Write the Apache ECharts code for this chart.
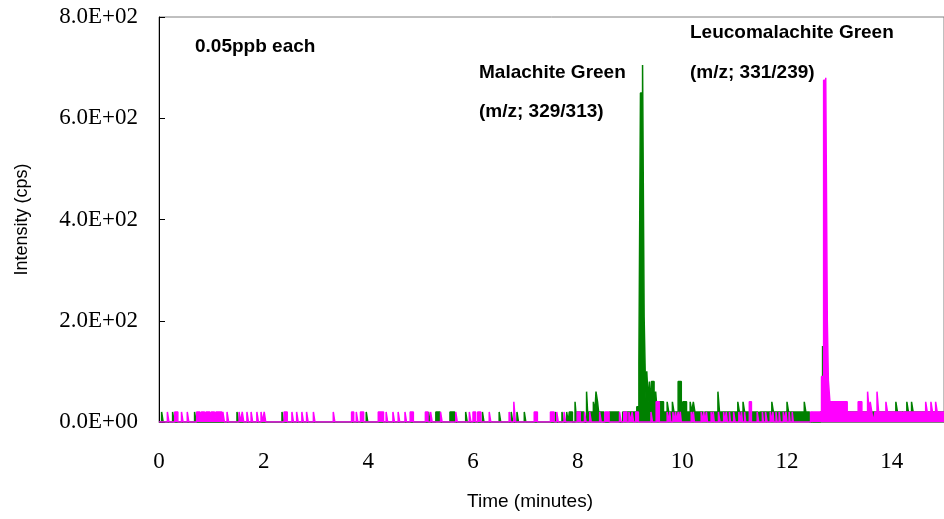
<!DOCTYPE html>
<html>
<head>
<meta charset="utf-8">
<script src="https://cdn.jsdelivr.net/npm/echarts@6/dist/echarts.min.js"></script>
<style>
html,body{margin:0;padding:0;background:#fff;}
#chart{width:944px;height:519px;}
</style>
</head>
<body>
<div id="chart"></div>
<script>
// Axis ticks
const xTicks = [0, 2, 4, 6, 8, 10, 12, 14];
const yTicks = [0, 200, 400, 600, 800];

// Malachite Green (m/z 329/313): runs of constant intensity [start min, end min, cps]
const greenRuns = [
  [0.05,0.08,20],[0.26,0.29,20],[0.68,0.71,20],[1.49,1.52,20],[2.35,2.38,20],
  [3.96,3.99,20],[5.15,5.18,20],[5.29,5.37,20],[5.56,5.65,20],[5.86,5.89,20],
  [6.18,6.21,20],[6.50,6.53,20],[6.73,6.76,20],[6.84,6.87,20],[6.98,7.01,20],
  [7.57,7.60,20],[7.70,7.73,20],[7.79,7.82,20],[7.84,7.90,20],[7.95,7.98,40],
  [7.99,8.12,20],[8.17,8.20,60],[8.21,8.30,20],[8.30,8.33,40],[8.33,8.35,20],
  [8.35,8.38,60],[8.38,8.40,40],[8.40,8.50,20],[8.61,8.79,20],[8.86,9.13,20],
  [9.13,9.17,30],[9.17,9.20,117],[9.20,9.24,650],[9.24,9.27,705],[9.27,9.29,207],
  [9.29,9.31,100],[9.31,9.32,30],[9.32,9.35,100],[9.35,9.37,40],[9.37,9.39,80],
  [9.39,9.41,30],[9.41,9.46,80],[9.46,9.49,20],[9.49,9.52,60],[9.52,9.54,20],
  [9.54,9.64,40],[9.64,9.71,20],[9.71,9.74,40],[9.74,9.81,20],[9.81,9.84,40],
  [9.84,9.92,20],[9.92,9.98,80],[9.98,10.01,20],[10.01,10.08,40],[10.08,10.15,20],
  [10.15,10.18,40],[10.18,10.21,20],[10.21,10.24,40],[10.24,10.40,20],[10.43,10.68,20],
  [10.68,10.71,60],[10.71,11.06,20],[11.06,11.09,40],[11.09,11.16,20],[11.16,11.19,40],
  [11.19,11.45,20],[11.48,11.71,20],[11.71,11.74,40],[11.74,12.00,20],[12.00,12.03,40],
  [12.03,12.33,20],[12.33,12.36,40],[12.36,12.43,20],[12.47,12.49,20],[12.64,12.68,20],
  [12.68,12.70,150],[12.70,12.77,80],[12.77,12.80,40],[12.80,14.08,20],[14.08,14.11,40],
  [14.11,14.29,20],[14.29,14.32,40],[14.32,14.38,20],[14.38,14.41,40],[14.41,15.00,20]
];

// Leucomalachite Green (m/z 331/239): runs of constant intensity [start min, end min, cps]
const magentaRuns = [
  [0.16,0.19,20],[0.30,0.36,20],[0.43,0.46,20],[0.54,0.57,20],[0.72,0.78,20],
  [0.81,0.87,20],[0.90,0.97,20],[1.00,1.06,20],[1.09,1.20,20],[1.22,1.25,20],
  [1.30,1.33,20],[1.53,1.56,20],[1.59,1.62,20],[1.68,1.71,20],[1.76,1.79,20],
  [1.87,1.90,20],[1.95,1.98,20],[2.01,2.04,20],[2.39,2.45,20],[2.54,2.57,20],
  [2.63,2.66,20],[2.73,2.76,20],[2.82,2.85,20],[2.95,2.98,20],[3.33,3.36,20],
  [3.68,3.72,20],[3.77,3.80,20],[3.85,3.91,20],[4.19,4.29,20],[4.34,4.37,20],
  [4.47,4.50,20],[4.57,4.60,20],[4.70,4.73,20],[4.80,4.86,20],[5.09,5.14,20],
  [5.19,5.22,20],[5.38,5.41,20],[5.67,5.70,20],[5.93,5.96,20],[6.00,6.05,20],
  [6.09,6.15,20],[6.31,6.34,20],[6.69,6.72,20],[6.78,6.81,40],[7.17,7.23,20],
  [7.48,7.55,20],[7.60,7.63,20],[7.74,7.77,20],[7.99,8.05,20],[8.13,8.16,20],
  [8.23,8.26,20],[8.42,8.45,20],[8.52,8.60,20],[8.80,8.83,20],[8.88,8.94,20],
  [8.98,9.01,20],[9.04,9.07,20],[9.11,9.16,20],[9.40,9.43,20],[9.50,9.56,40],
  [9.71,9.73,20],[9.76,9.78,20],[9.82,9.84,20],[9.87,9.89,20],[9.92,9.94,20],
  [9.96,9.98,20],[10.17,10.19,20],[10.21,10.23,20],[10.36,10.38,20],[10.41,10.43,20],
  [10.46,10.48,20],[10.55,10.57,20],[10.59,10.61,20],[10.69,10.72,20],[10.79,10.81,20],
  [10.84,10.86,20],[10.90,10.92,20],[10.98,11.01,20],[11.08,11.10,20],[11.13,11.15,20],
  [11.19,11.21,20],[11.28,11.32,40],[11.43,11.46,20],[11.53,11.55,20],[11.59,11.62,20],
  [11.68,11.70,20],[11.73,11.75,20],[11.79,11.81,20],[11.85,11.87,20],[11.93,11.95,20],
  [11.98,12.00,20],[12.04,12.06,20],[12.10,12.12,20],
  [12.45,12.66,20],[12.66,12.70,90],[12.70,12.74,675],[12.74,12.77,680],
  [12.77,12.79,200],[12.79,12.82,83],[12.82,13.15,40],[13.15,13.36,20],[13.36,13.43,40],
  [13.43,13.54,20],[13.54,13.57,60],[13.57,13.59,20],[13.59,13.62,40],[13.62,13.65,20],
  [13.68,13.72,20],[13.72,13.75,60],[13.75,13.89,20],[13.89,13.92,40],[13.92,14.19,20],
  [14.22,14.65,20],[14.65,14.68,40],[14.68,14.75,20],[14.75,14.78,40],[14.78,14.84,20],
  [14.84,14.87,40],[14.87,15.00,20]
];

const seriesNames = ['Malachite Green', 'Leucomalachite Green'];

function runsToSteps(runs) {
  const pts = [[0, 0]];
  for (let i = 0; i < runs.length; i++) {
    const [s, e, v] = runs[i];
    pts.push([s, v]);
    const next = runs[i + 1];
    if (!next || next[0] > e + 1e-9) pts.push([e, 0]);
  }
  return pts;
}

function sci(v) {
  if (v === 0) return '0.0E+00';
  const e = Math.floor(Math.log10(v) + 1e-9);
  const m = v / Math.pow(10, e);
  return m.toFixed(1) + 'E+' + String(e).padStart(2, '0');
}

const chart = echarts.init(document.getElementById('chart'), null, {renderer: 'canvas'});
const sans = 'Liberation Sans, Arial, sans-serif';
const serif = 'Liberation Serif, Times New Roman, serif';
const boldText = {fontFamily: sans, fontWeight: 'bold', fontSize: 19, fill: '#000'};

chart.setOption({
  animation: false,
  backgroundColor: '#fff',
  grid: {left: 159, top: 17, width: 790, height: 405, show: true, borderColor: '#808080', borderWidth: 1},
  xAxis: {
    type: 'value', min: 0, max: 15, interval: 2,
    axisLine: {show: true, lineStyle: {color: '#808080', width: 1}},
    axisTick: {show: false},
    splitLine: {show: false},
    axisLabel: {
      margin: 28, fontFamily: serif, fontSize: 23, color: '#000',
      customValues: xTicks, formatter: v => String(v)
    }
  },
  yAxis: {
    type: 'value', min: 0, max: 800, interval: 200,
    name: 'Intensity (cps)', nameLocation: 'middle', nameGap: 128, nameRotate: 90,
    nameTextStyle: {fontFamily: sans, fontSize: 18, color: '#000'},
    axisLine: {show: true, lineStyle: {color: '#000', width: 1}},
    axisTick: {show: true, inside: true, length: 6, lineStyle: {color: '#000'}},
    splitLine: {show: false},
    axisLabel: {
      margin: 21, fontFamily: serif, fontSize: 23, color: '#000',
      customValues: yTicks, formatter: v => sci(v)
    }
  },
  series: [
    {
      name: seriesNames[0], type: 'line', step: 'end', showSymbol: false, symbol: 'none',
      data: runsToSteps(greenRuns), lineStyle: {color: '#008000', width: 1.5}, itemStyle: {color: '#008000'},
      areaStyle: {color: '#008000', opacity: 1},
      z: 2
    },
    {
      name: seriesNames[1], type: 'line', step: 'end', showSymbol: false, symbol: 'none',
      data: runsToSteps(magentaRuns), lineStyle: {color: '#FF00FF', width: 1.5}, itemStyle: {color: '#FF00FF'},
      areaStyle: {color: '#FF00FF', opacity: 1},
      z: 3
    }
  ],
  graphic: [
    {type: 'text', left: 195, top: 37, style: Object.assign({text: '0.05ppb each'}, boldText)},
    {type: 'text', left: 479, top: 63, style: Object.assign({text: 'Malachite Green'}, boldText)},
    {type: 'text', left: 479, top: 102, style: Object.assign({text: '(m/z; 329/313)'}, boldText)},
    {type: 'text', left: 690, top: 23, style: Object.assign({text: 'Leucomalachite Green'}, boldText)},
    {type: 'text', left: 690, top: 63, style: Object.assign({text: '(m/z; 331/239)'}, boldText)},
    {type: 'text', x: 530, y: 502, style: {text: 'Time (minutes)', fontFamily: sans, fontSize: 19, fill: '#000', textAlign: 'center', textVerticalAlign: 'middle'}}
  ]
});
</script>
</body>
</html>
